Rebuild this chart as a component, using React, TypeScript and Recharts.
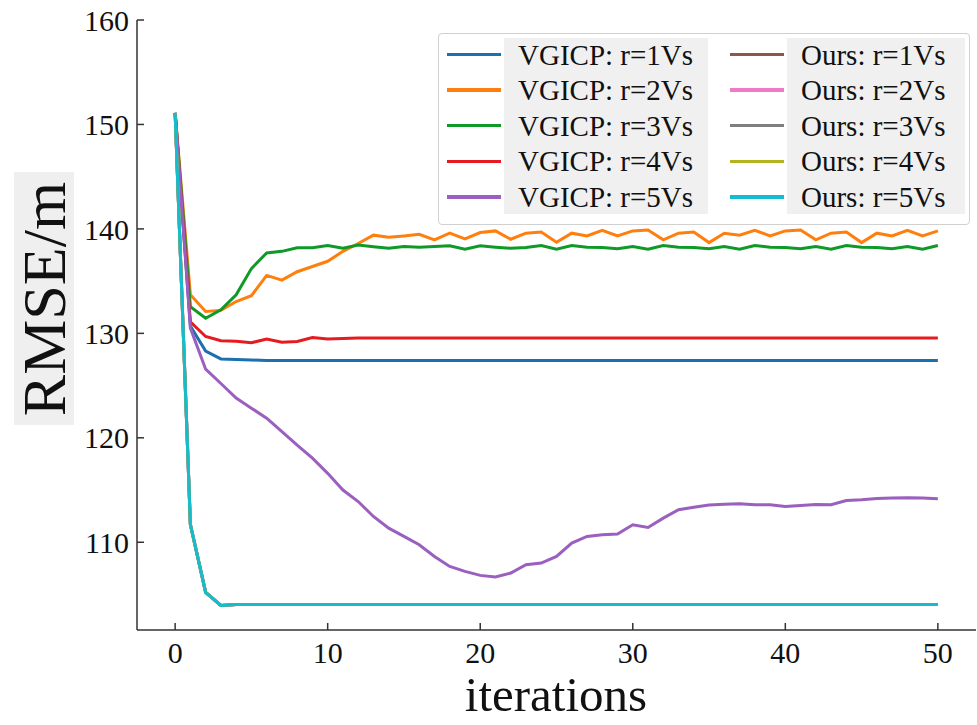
import React from 'react';
import { LineChart, Line, XAxis, YAxis, Legend } from 'recharts';

const iterations = [
  0, 1, 2, 3, 4, 5, 6, 7, 8, 9,
  10, 11, 12, 13, 14, 15, 16, 17, 18, 19,
  20, 21, 22, 23, 24, 25, 26, 27, 28, 29,
  30, 31, 32, 33, 34, 35, 36, 37, 38, 39,
  40, 41, 42, 43, 44, 45, 46, 47, 48, 49,
  50,
];

const xTicks = [0, 10, 20, 30, 40, 50];
const yTicks = [110, 120, 130, 140, 150, 160];

const vgicpR1 = [
  151.1, 130.7, 128.3, 127.55, 127.5, 127.45, 127.4, 127.4, 127.4, 127.4,
  127.4, 127.4, 127.4, 127.4, 127.4, 127.4, 127.4, 127.4, 127.4, 127.4,
  127.4, 127.4, 127.4, 127.4, 127.4, 127.4, 127.4, 127.4, 127.4, 127.4,
  127.4, 127.4, 127.4, 127.4, 127.4, 127.4, 127.4, 127.4, 127.4, 127.4,
  127.4, 127.4, 127.4, 127.4, 127.4, 127.4, 127.4, 127.4, 127.4, 127.4,
  127.4,
];

const vgicpR2 = [
  151.1, 133.7, 132.1, 132.2, 133.05, 133.6, 135.55, 135.1, 135.9, 136.4,
  136.9, 137.85, 138.6, 139.4, 139.2, 139.33, 139.49, 138.95, 139.59, 139.04,
  139.65, 139.81, 139.01, 139.59, 139.71, 138.72, 139.59, 139.33, 139.87, 139.33,
  139.81, 139.9, 138.95, 139.59, 139.71, 138.69, 139.59, 139.39, 139.87, 139.33,
  139.81, 139.9, 138.95, 139.59, 139.71, 138.69, 139.59, 139.33, 139.87, 139.33,
  139.81,
];

const vgicpR3 = [
  151.1, 132.55, 131.45, 132.25, 133.7, 136.2, 137.7, 137.85, 138.2, 138.2,
  138.4, 138.15, 138.45, 138.3, 138.15, 138.31, 138.25, 138.31, 138.38, 138.06,
  138.38, 138.25, 138.15, 138.22, 138.41, 138.06, 138.41, 138.25, 138.22, 138.09,
  138.31, 138.06, 138.41, 138.25, 138.22, 138.09, 138.31, 138.06, 138.41, 138.25,
  138.22, 138.09, 138.31, 138.06, 138.41, 138.25, 138.22, 138.09, 138.31, 138.06,
  138.41,
];

const vgicpR4 = [
  151.1, 131.1, 129.7, 129.3, 129.25, 129.1, 129.45, 129.15, 129.22, 129.6,
  129.45, 129.5, 129.55, 129.55, 129.55, 129.55, 129.55, 129.55, 129.55, 129.55,
  129.55, 129.55, 129.55, 129.55, 129.55, 129.55, 129.55, 129.55, 129.55, 129.55,
  129.55, 129.55, 129.55, 129.55, 129.55, 129.55, 129.55, 129.55, 129.55, 129.55,
  129.55, 129.55, 129.55, 129.55, 129.55, 129.55, 129.55, 129.55, 129.55, 129.55,
  129.55,
];

const vgicpR5 = [
  151.1, 130.5, 126.57, 125.2, 123.8, 122.84, 121.88, 120.6, 119.3, 118.06,
  116.6, 115.0, 113.9, 112.47, 111.35, 110.56, 109.76, 108.64, 107.69, 107.21,
  106.83, 106.67, 107.05, 107.85, 108.01, 108.64, 109.92, 110.56, 110.72, 110.78,
  111.67, 111.42, 112.31, 113.11, 113.36, 113.56, 113.65, 113.68, 113.59, 113.59,
  113.43, 113.53, 113.62, 113.59, 114.0, 114.07, 114.2, 114.23, 114.26, 114.23,
  114.16,
];

const oursValues = [
  151.1, 111.7, 105.2, 103.95, 104.05, 104.05, 104.05, 104.05, 104.05, 104.05,
  104.05, 104.05, 104.05, 104.05, 104.05, 104.05, 104.05, 104.05, 104.05, 104.05,
  104.05, 104.05, 104.05, 104.05, 104.05, 104.05, 104.05, 104.05, 104.05, 104.05,
  104.05, 104.05, 104.05, 104.05, 104.05, 104.05, 104.05, 104.05, 104.05, 104.05,
  104.05, 104.05, 104.05, 104.05, 104.05, 104.05, 104.05, 104.05, 104.05, 104.05,
  104.05,
];

const seriesNames = [
  'VGICP: r=1Vs', 'VGICP: r=2Vs', 'VGICP: r=3Vs', 'VGICP: r=4Vs', 'VGICP: r=5Vs',
  'Ours: r=1Vs', 'Ours: r=2Vs', 'Ours: r=3Vs', 'Ours: r=4Vs', 'Ours: r=5Vs',
];
const seriesValues = [
  vgicpR1, vgicpR2, vgicpR3, vgicpR4, vgicpR5,
  oursValues, oursValues, oursValues, oursValues, oursValues,
];
const seriesColors = [
  '#1b70ad', '#ff7f0e', '#0f9a28', '#e51b20', '#9a5fbf',
  '#8c564b', '#f07ac8', '#7f7f7f', '#b3b31f', '#14bccf',
];

const data = iterations.map((it, i) => {
  const row: Record<string, number> = { iteration: it };
  seriesValues.forEach((arr, s) => {
    row['s' + s] = arr[i];
  });
  return row;
});

const FONT = '"Liberation Serif", "Times New Roman", serif';
const CHART_W = 977;
const CHART_H = 725;
const MARGIN = { top: 20, right: 1, bottom: 45, left: 77 };
const X_AXIS_H = 50;
const Y_AXIS_W = 60;
const PLOT_LEFT = MARGIN.left + Y_AXIS_W;
const PLOT_BOTTOM = CHART_H - MARGIN.bottom - X_AXIS_H;
const TICK_FONT = 30;
const TICK_LEN = 7;

const XTick = (props: any) => {
  const { payload } = props;
  const cx = payload.coordinate;
  return (
    <g>
      <line x1={cx} x2={cx} y1={PLOT_BOTTOM} y2={PLOT_BOTTOM - TICK_LEN} stroke="#333" strokeWidth={1.5} />
      <text x={cx} y={PLOT_BOTTOM + 12} dy="0.71em" textAnchor="middle" fontFamily={FONT} fontSize={TICK_FONT} fill="#111">
        {payload.value}
      </text>
    </g>
  );
};

const YTick = (props: any) => {
  const { payload } = props;
  const cy = payload.coordinate;
  return (
    <g>
      <line x1={PLOT_LEFT} x2={PLOT_LEFT + TICK_LEN} y1={cy} y2={cy} stroke="#333" strokeWidth={1.5} />
      <text x={PLOT_LEFT - 8} y={cy} dy="0.355em" textAnchor="end" fontFamily={FONT} fontSize={TICK_FONT} fill="#111">
        {payload.value}
      </text>
    </g>
  );
};

const LegendBox = () => {
  const rowH = 35.6;
  const renderCol = (start: number, lineX: number, bgX: number, bgW: number, textX: number) => (
    <>
      <div style={{ position: 'absolute', left: bgX - 438, top: 4, width: bgW, height: 176, background: '#f0f0f0' }} />
      {[0, 1, 2, 3, 4].map((k) => {
        const idx = start + k;
        const cy = 53.5 + k * rowH - 33;
        return (
          <React.Fragment key={idx}>
            <div style={{ position: 'absolute', left: lineX - 438, top: cy - 1.75, width: 54, height: 3.5, background: seriesColors[idx] }} />
            <div style={{ position: 'absolute', left: textX - 438, top: cy - 17, height: 34, lineHeight: '34px', fontFamily: FONT, fontSize: 29, color: '#111', whiteSpace: 'nowrap' }}>
              {seriesNames[idx]}
            </div>
          </React.Fragment>
        );
      })}
    </>
  );
  return (
    <div style={{ position: 'relative', width: 532, height: 192, border: '1.5px solid #d0d0d0', borderRadius: 4, background: '#fff', boxSizing: 'border-box' }}>
      {renderCol(0, 446, 503, 204, 517)}
      {renderCol(5, 729, 786, 178, 800)}
    </div>
  );
};

export default function App() {
  return (
    <div style={{ position: 'absolute', left: 0, top: 0, width: CHART_W, height: CHART_H, background: '#fff' }}>
      <LineChart width={CHART_W} height={CHART_H} data={data} margin={MARGIN}>
        <XAxis
          dataKey="iteration"
          type="number"
          domain={[-2.5, 52.5]}
          ticks={xTicks}
          allowDataOverflow
          height={X_AXIS_H}
          tickLine={false}
          tick={XTick}
          axisLine={{ stroke: '#333', strokeWidth: 1.5 }}
        />
        <XAxis
          xAxisId="top"
          orientation="top"
          type="number"
          domain={[-2.5, 52.5]}
          height={0}
          tick={false}
          tickLine={false}
          axisLine={{ stroke: '#333', strokeWidth: 1.5 }}
        />
        <YAxis
          type="number"
          domain={[101.6, 160]}
          ticks={yTicks}
          allowDataOverflow
          width={Y_AXIS_W}
          tickLine={false}
          tick={YTick}
          axisLine={{ stroke: '#333', strokeWidth: 1.5 }}
        />
        <YAxis
          yAxisId="right"
          orientation="right"
          type="number"
          domain={[101.6, 160]}
          width={0}
          tick={false}
          tickLine={false}
          axisLine={{ stroke: '#333', strokeWidth: 1.5 }}
        />
        {seriesNames.map((name, s) => (
          <Line
            key={name}
            type="linear"
            dataKey={'s' + s}
            name={name}
            stroke={seriesColors[s]}
            strokeWidth={3}
            dot={false}
            activeDot={false}
            isAnimationActive={false}
          />
        ))}
        <Legend
          layout="vertical"
          align="center"
          verticalAlign="middle"
          content={() => <LegendBox />}
          wrapperStyle={{ position: 'absolute', left: 438, top: 33, width: 532, height: 192 }}
        />
      </LineChart>
      <div
        style={{
          position: 'absolute', left: 14, top: 172, width: 60, height: 253, background: '#efefef',
          display: 'flex', alignItems: 'center', justifyContent: 'center',
        }}
      >
        <div style={{ transform: 'rotate(-90deg)', fontFamily: FONT, fontSize: 62, lineHeight: '60px', color: '#111', whiteSpace: 'nowrap' }}>
          RMSE/m
        </div>
      </div>
      <div
        style={{
          position: 'absolute', left: 356, top: 675, width: 400, textAlign: 'center',
          fontFamily: FONT, fontSize: 49, color: '#111', lineHeight: '40px',
        }}
      >
        iterations
      </div>
    </div>
  );
}
